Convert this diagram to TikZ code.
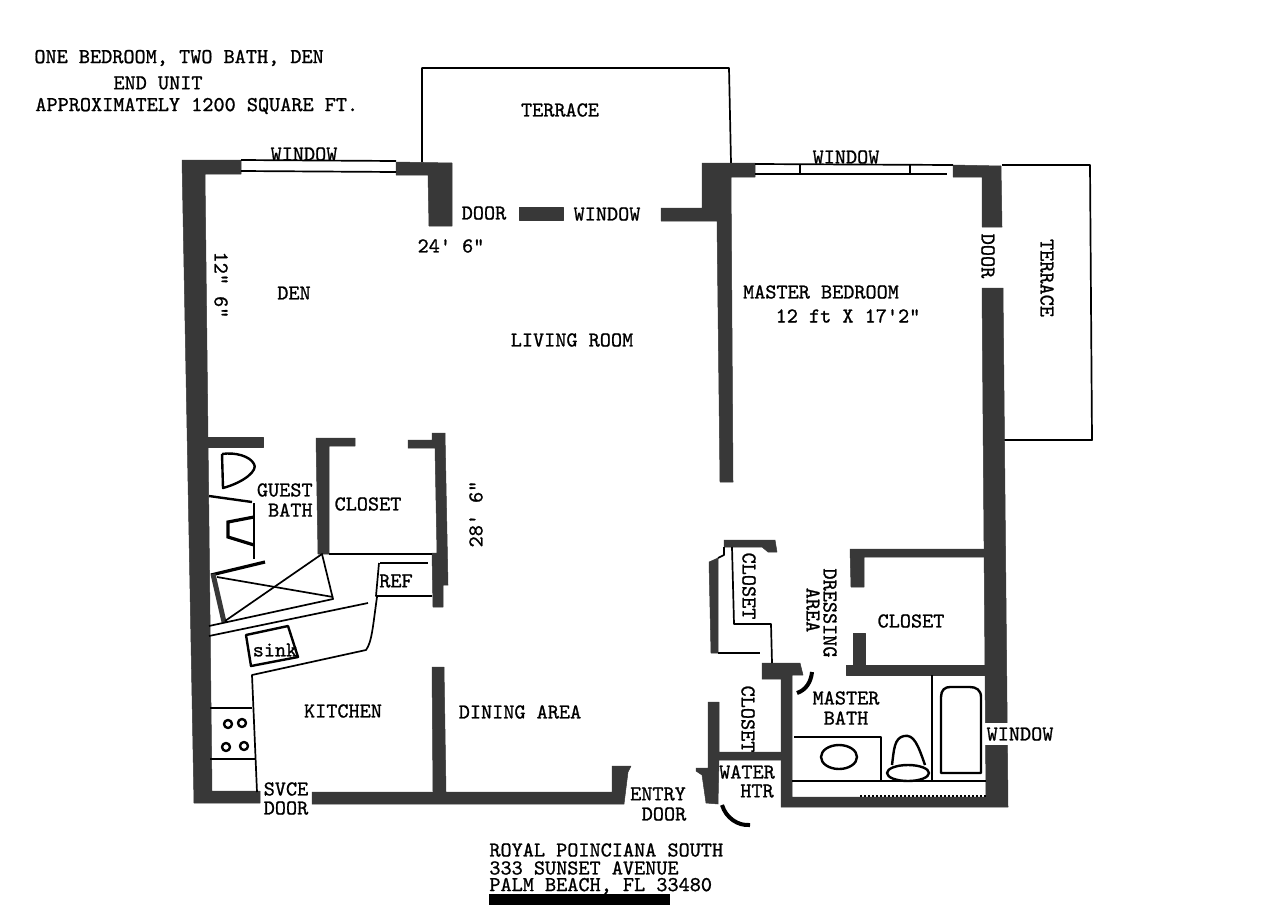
\documentclass[tikz,border=0pt]{standalone}
\usepackage{fontspec}
\setmonofont{Latin Modern Mono}[FakeBold=1]
\definecolor{walldark}{HTML}{383838}
\begin{document}
\begin{tikzpicture}[x=0.5pt,y=-0.5pt,
 wall/.style={fill=walldark,draw=walldark,line width=0.25pt,line join=round},
 thin line/.style={draw=black,line width=0.85pt,line join=round},
 heavy line/.style={draw=black,line width=1.6pt},
 lbl/.style={font=\ttfamily\fontsize{10.6}{12}\selectfont,inner sep=0pt},
 fixture/.style={draw=black,line width=1.2pt,line join=round}]
 \useasboundingbox (0,0) rectangle (1280,905);
 % terraces
 \draw[thin line](422,162)--(422,68)--(729,68)--(731,163);
 \draw[thin line](1002,165)--(1090,165)--(1092,440)--(1003,440);
 % outer walls
 \draw[wall](182,160)--(241,160)--(241,174)--(205,174)--(212,791)--(260,791)--(260,803)--(194,803)--cycle;
 \draw[wall](396,162)--(452,163)--(452,226)--(429,226)--(428,175)--(396,175)--cycle;
 \draw[wall](519,207)--(563,207)--(563,220)--(519,220)--cycle;
 \draw[wall](661,208)--(702,208)--(702,163)--(755,163)--(755,177)--(731,177)--(733,482)--(720,482)--(717,221)--(661,221)--cycle;
 \draw[wall](953,165)--(1001,166)--(1002,227)--(982,227)--(982,177)--(953,177)--cycle;
 \draw[wall](982,288)--(1003,288)--(1008,807)--(781,807)--(781,679)--(762,679)--(762,663)--(800,663)--(803,675)--(792,675)--(792,797)--(986,797)--cycle;
 \draw[wall](312,792)--(612,792)--(612,766)--(631,766)--(628,772)--(624,804)--(312,804)--cycle;
 % inner walls
 \draw[wall](206,437)--(263,437)--(263,447)--(206,447)--cycle;
 \draw[wall](316,438)--(355,438)--(355,446)--(329,446)--(329,554)--(318,554)--cycle;
 \draw[wall](432,433)--(445,433)--(448,585)--(443,585)--(443,607)--(433,607)--(432,553)--(437,553)--(435,448)--(408,448)--(408,440)--(432,440)--cycle;
 \draw[wall](432,667)--(444,667)--(446,792)--(433,792)--cycle;
 \draw[wall](724,540)--(775,540)--(777,552)--(768,552)--(762,547)--(724,547)--cycle;
 \draw[wall](709,562)--(718,558)--(718,653)--(711,653)--cycle;
 \draw[wall](850,549)--(984,549)--(984,557)--(864,557)--(864,587)--(851,587)--cycle;
 \draw[wall](853,633)--(865,633)--(865,665)--(985,665)--(985,675)--(846,675)--(846,665)--(853,665)--cycle;
 \draw[wall](708,702)--(719,702)--(719,752)--(781,752)--(781,760)--(719,760)--(718,804)--(706,803)--(702,775)--(696,771)--(696,768)--(708,768)--cycle;
 % thin partitions
 \draw[thin line](329,554)--(432,554);
 \draw[thin line](724,547)--(724,555)--(718,558);
 \draw[thin line](732,547)--(734,624)--(771,624)--(772,663);
 \draw[thin line](718,653)--(760,653);
 % guest bath
 \draw[fixture](222,454)--(223,488) .. controls (245,482) and (258,470) .. (254,464) .. controls (250,456) and (235,452) .. (222,454);
 \draw[fixture](209,496)--(252,502);
 \draw[thin line](254,503)--(254,559);
 \draw[heavy line](254,517)--(228,522)--(228,537)--(254,545);
 \draw[heavy line](211,575)--(265,562);
 \draw[line width=2.5pt,draw=walldark](213,574)--(224,622);
 \draw[thin line](209,626)--(333,599)--(322,554)--(225,621);
 \draw[thin line](217,577)--(333,597);
 % kitchen
 \draw[thin line](209,636)--(368,603);
 \draw[thin line](379,563)--(376,596)--(432,596);
 \draw[fixture](380,563)--(428,563);
 \draw[thin line](377,597) .. controls (373,625) and (372,642) .. (366,650)--(252,675)--(257,792);
 \draw[fixture](246,635)--(288,626)--(298,657)--(251,666)--cycle;
 \draw[thin line](210,708)--(252,708);
 \draw[thin line](210,759)--(255,759);
 \draw[fixture](228,724) circle (4);
 \draw[fixture](242,723) circle (4);
 \draw[fixture](226,747) circle (4);
 \draw[fixture](244,746) circle (4);
 % windows
 \draw[thin line](241,160)--(396,161);
 \draw[thin line](241,171)--(396,172);
 \draw[thin line](755,164)--(953,165);
 \draw[thin line](755,174)--(947,174);
 \draw[thin line](800,164)--(800,174);
 \draw[thin line](910,165)--(910,174);
 % master bath
 \draw[thin line](932,675)--(932,781);
 \draw[thin line](792,781)--(986,781);
 \draw[thin line](794,737)--(881,737)--(881,781);
 \draw[fixture](839,757) ellipse (18 and 12);
 \draw[fixture](892,765) .. controls (894,750) and (894,738) .. (904,736) .. controls (914,734) and (918,745) .. (925,765);
 \draw[fixture](908,773) ellipse (21 and 8);
 \draw[fixture](941,773)--(941,697) .. controls (941,690) and (945,687) .. (950,687)--(970,687) .. controls (976,687) and (981,690) .. (981,697)--(981,773)--cycle;
 \draw[line width=1pt,densely dotted](860,796)--(986,796);
 % door swings
 \draw[line width=2pt](812,672) .. controls (811,682) and (806,690) .. (797,693);
 \draw[line width=2pt](722,805) .. controls (726,818) and (738,826) .. (750,825);
 % labels
 \node[lbl,anchor=west] (title a) at (34,58) {ONE BEDROOM, TWO BATH, DEN};
 \node[lbl] (title b) at (158,83) {END UNIT};
 \node[lbl,anchor=west] (title c) at (35,106) {APPROXIMATELY 1200 SQUARE FT.};
 \node[lbl] (den window) at (304,154) {WINDOW};
 \node[lbl] (top terrace) at (560,110) {TERRACE};
 \node[lbl] (living door) at (484,213) {DOOR};
 \node[lbl] (living window) at (607,214) {WINDOW};
 \node[lbl] (living width) at (451,246) {24' 6"};
 \node[lbl] (bed window) at (846,157) {WINDOW};
 \node[lbl,rotate=-90] (bed door) at (988,256) {DOOR};
 \node[lbl,rotate=-90] (side terrace) at (1047,278) {TERRACE};
 \node[lbl,rotate=-90] (den size) at (221,285) {12" 6"};
 \node[lbl] (den) at (294,293) {DEN};
 \node[lbl] (living) at (572,340) {LIVING ROOM};
 \node[lbl] (bedroom) at (821,292) {MASTER BEDROOM};
 \node[lbl] (bed size) at (848,316) {12 ft X 17'2"};
 \node[lbl,anchor=east] (guest) at (313,490) {GUEST};
 \node[lbl,anchor=east] (guest bath) at (313,510) {BATH};
 \node[lbl] (hall closet) at (368,504) {CLOSET};
 \node[lbl,rotate=90] (living depth) at (476,514) {28' 6"};
 \node[lbl] (ref) at (396,581) {REF};
 \node[lbl] (sink) at (275,650) {sink};
 \node[lbl] (kitchen) at (343,711) {KITCHEN};
 \node[lbl] (dining) at (520,712) {DINING AREA};
 \node[lbl] (svce) at (286,789) {SVCE};
 \node[lbl] (svce door) at (286,808) {DOOR};
 \node[lbl] (entry) at (658,794) {ENTRY};
 \node[lbl] (entry door) at (664,814) {DOOR};
 \node[lbl,rotate=-90] (closet a) at (749,586) {CLOSET};
 \node[lbl,rotate=-90] (dressing) at (830,613) {DRESSING};
 \node[lbl,rotate=-90] (dressing area) at (813,610) {AREA};
 \node[lbl] (walk closet) at (911,621) {CLOSET};
 \node[lbl] (master) at (846,698) {MASTER};
 \node[lbl] (master bath) at (846,718) {BATH};
 \node[lbl,rotate=-90] (closet b) at (748,719) {CLOSET};
 \node[lbl] (water) at (747,772) {WATER};
 \node[lbl] (htr) at (757,791) {HTR};
 \node[lbl,fill=white,inner sep=2pt] (bath window) at (1020,734) {WINDOW};
 \node[lbl,anchor=west] (addr a) at (489,850) {ROYAL POINCIANA SOUTH};
 \node[lbl,anchor=west] (addr b) at (489,868) {333 SUNSET AVENUE};
 \node[lbl,anchor=west] (addr c) at (489,886) {PALM BEACH, FL 33480};
 \fill[black](489,894) rectangle (670,905);
\end{tikzpicture}
\end{document}
